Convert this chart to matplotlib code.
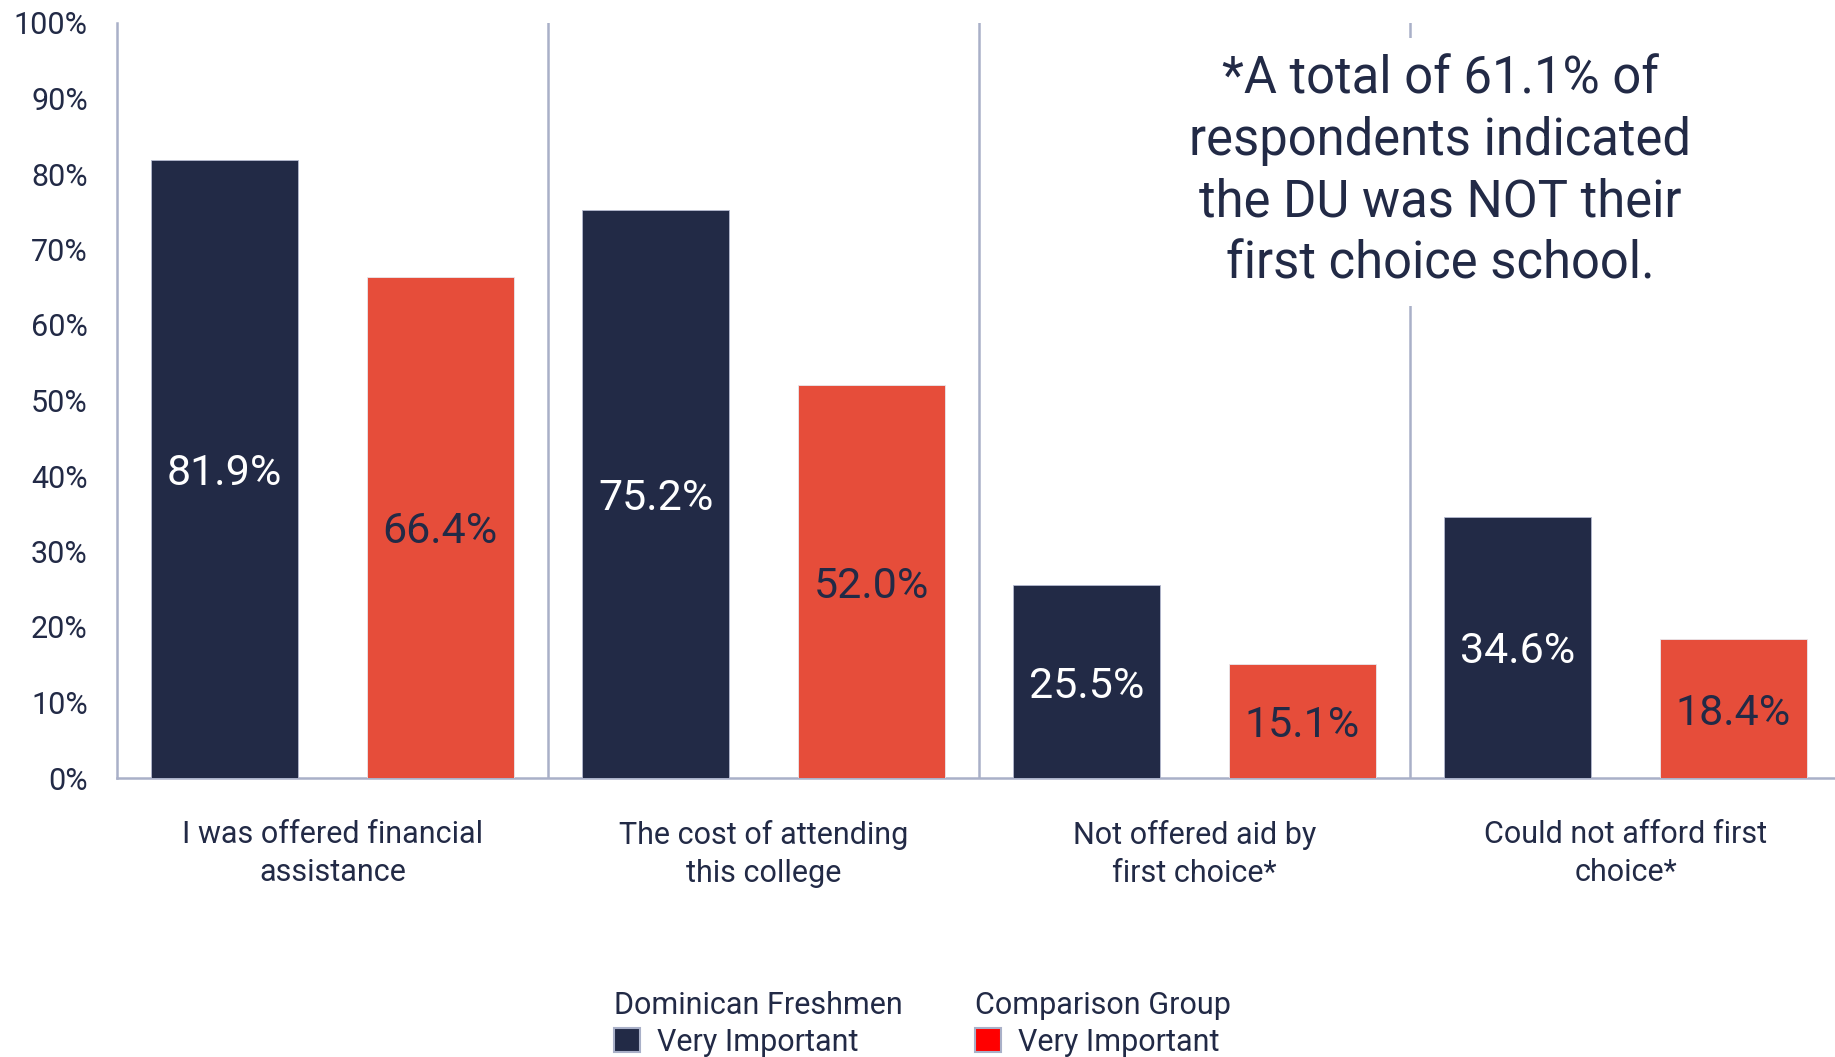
import numpy as np
import matplotlib.pyplot as plt
from matplotlib.patches import Patch

plt.rcParams['font.family'] = ['Roboto', 'DejaVu Sans']

# data
categories = ["I was offered financial\nassistance",
              "The cost of attending\nthis college",
              "Not offered aid by\nfirst choice*",
              "Could not afford first\nchoice*"]
dominican = [81.9, 75.2, 25.5, 34.6]
comparison = [66.4, 52.0, 15.1, 18.4]
yticks = [0, 10, 20, 30, 40, 50, 60, 70, 80, 90, 100]
note = "*A total of 61.1% of\nrespondents indicated\nthe DU was NOT their\nfirst choice school."

NAVY = '#222a46'
RED = '#e64d3a'
BRIGHT_RED = '#ff0000'
GRID = '#a9b0c8'
TEXT = '#222a46'

W, H = 1835, 1057
fig = plt.figure(figsize=(W / 100, H / 100), dpi=100)
ax = fig.add_axes([117 / W, 279 / H, 1724 / W, 755 / H])

x = np.arange(len(categories))
w = 0.34
bars1 = ax.bar(x - 0.25, dominican, w, color=NAVY, edgecolor='#b4bad0', linewidth=0.6, zorder=3)
bars2 = ax.bar(x + 0.25, comparison, w, color=RED, edgecolor='#e8e8ee', linewidth=0.6, zorder=3)

# value labels in the middle of each bar
for rect, v in zip(bars1, dominican):
    ax.text(rect.get_x() + rect.get_width() / 2, v / 2, f"{v:.1f}%",
            ha='center', va='center_baseline', color='white', fontsize=31, zorder=4)
for rect, v in zip(bars2, comparison):
    ax.text(rect.get_x() + rect.get_width() / 2, v / 2, f"{v:.1f}%",
            ha='center', va='center_baseline', color=TEXT, fontsize=31, zorder=4)

ax.set_xlim(-0.5, len(categories) - 0.5)
ax.set_ylim(0, 100)
ax.set_yticks(yticks)
ax.set_yticklabels([f"{t}%" for t in yticks])
ax.set_xticks(x)
ax.set_xticklabels(categories, linespacing=1.4)
ax.tick_params(axis='y', length=0, pad=21, labelsize=22, labelcolor=TEXT)
ax.tick_params(axis='x', length=0, pad=30, labelsize=22, labelcolor=TEXT)

for s in ['top', 'right']:
    ax.spines[s].set_visible(False)
for s in ['left', 'bottom']:
    ax.spines[s].set_color(GRID)
    ax.spines[s].set_linewidth(1.8)

# separators between the groups
for xs in x[:-1] + 0.5:
    ax.axvline(xs, color=GRID, linewidth=1.8, zorder=1)

# note box, white background hides part of the last separator
fig.text(1440 / W, 1 - 172 / H, note, ha='center', va='center', fontsize=36.5,
         color=TEXT, linespacing=1.3,
         bbox=dict(facecolor='white', edgecolor='none', pad=12))

# two legends, each with its own title
leg_kw = dict(loc='upper left', frameon=False, alignment='left', fontsize=22,
              title_fontsize=22, labelcolor=TEXT, handlelength=0.85, handleheight=0.85,
              handletextpad=0.55, borderpad=0, borderaxespad=0, labelspacing=0.25)
leg1 = fig.legend(handles=[Patch(facecolor=NAVY, edgecolor=GRID, linewidth=1.5)],
                  labels=["Very Important"], title="Dominican Freshmen",
                  bbox_to_anchor=(614 / W, 1 - 991 / H), **leg_kw)
leg2 = fig.legend(handles=[Patch(facecolor=BRIGHT_RED, edgecolor=GRID, linewidth=1.5)],
                  labels=["Very Important"], title="Comparison Group",
                  bbox_to_anchor=(975 / W, 1 - 991 / H), **leg_kw)
for leg in (leg1, leg2):
    leg.get_title().set_color(TEXT)

fig.savefig('out.png', dpi=100)
